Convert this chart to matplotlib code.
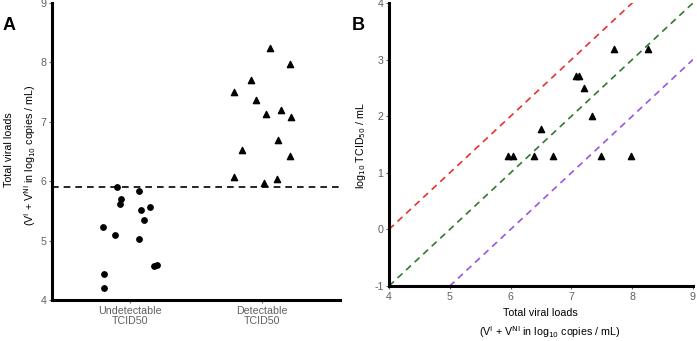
import numpy as np
import matplotlib.pyplot as plt

plt.rcParams['font.family'] = ['Liberation Sans', 'DejaVu Sans']
plt.rcParams['axes.unicode_minus'] = False

# Panel A data: category index, horizontal jitter, viral load
undet_jitter = [-0.096, -0.070, -0.078, 0.070, 0.149, 0.086, 0.104,
                -0.207, -0.111, 0.070, 0.184, 0.202, -0.194, -0.194]
undet_load = [5.90, 5.70, 5.62, 5.84, 5.57, 5.52, 5.35,
              5.23, 5.10, 5.03, 4.57, 4.59, 4.44, 4.21]
det_jitter = [0.058, 0.212, -0.083, -0.212, -0.048, 0.146, 0.028,
              0.217, 0.124, -0.149, 0.210, -0.212, 0.114, 0.013]
det_load = [8.25, 7.97, 7.70, 7.50, 7.36, 7.20, 7.13,
            7.08, 6.70, 6.52, 6.42, 6.07, 6.04, 5.97]
categories = ['Undetectable\nTCID50', 'Detectable\nTCID50']
threshold = 5.9

# Panel B data
b_load = [5.96, 6.04, 6.39, 6.69, 6.50, 7.07, 7.12, 7.20, 7.34, 7.49, 7.70, 7.98, 8.26]
b_tcid = [1.3, 1.3, 1.3, 1.3, 1.78, 2.71, 2.71, 2.49, 2.0, 1.3, 3.19, 1.3, 3.19]
# reference lines y = x - offset
line_offsets = [4, 5, 6]
line_colors = ['#e8322c', '#2f7a2f', '#9a55e0']

W, H = 697, 341
fig = plt.figure(figsize=(W / 100, H / 100), dpi=100)

tick_color = '#606060'
fs = 7.7
paren_label = r'(V$^{\mathrm{I}}$ + V$^{\mathrm{NI}}$ in log$_{10}$ copies / mL)'


def style(ax):
    for s in ['top', 'right']:
        ax.spines[s].set_visible(False)
    for s in ['left', 'bottom']:
        ax.spines[s].set_linewidth(2.2)
        ax.spines[s].set_color('black')
    ax.tick_params(length=2.5, width=0.8, color=tick_color, labelcolor=tick_color,
                   labelsize=fs, pad=1.5)


# Panel A
axA = fig.add_axes([52 / W, 1 - 300 / H, (340 - 52) / W, (300 - 3) / H])
style(axA)
axA.scatter(1 + np.array(undet_jitter), undet_load, marker='o', s=15, color='black', zorder=3)
axA.scatter(2 + np.array(det_jitter), det_load, marker='^', s=20, color='black', zorder=3)
axA.axhline(threshold, color='black', linestyle=(0, (4, 3)), linewidth=1.2)
axA.set_xlim(0.41, 2.59)
axA.set_ylim(4, 9)
axA.set_yticks([4, 5, 6, 7, 8, 9])
axA.set_xticks([1, 2])
axA.set_xticklabels(categories, linespacing=1.1)
fig.text(9 / W, 1 - 150 / H, 'Total viral loads', fontsize=fs, rotation=90,
         ha='center', va='center')
fig.text(30 / W, 1 - 155 / H, paren_label, fontsize=fs, rotation=90,
         ha='center', va='center')
fig.text(3 / W, 1 - 30 / H, 'A', fontsize=13, fontweight='bold')

# Panel B
axB = fig.add_axes([389 / W, 1 - 286 / H, (693 - 389) / W, (286 - 3) / H])
style(axB)
xx = np.array([4, 9])
for off, c in zip(line_offsets, line_colors):
    axB.plot(xx, xx - off, color=c, linestyle=(0, (4, 3)), linewidth=1.2, zorder=2)
axB.scatter(b_load, b_tcid, marker='^', s=20, color='black', zorder=3)
axB.set_xlim(4, 9)
axB.set_ylim(-1, 4)
axB.set_xticks([4, 5, 6, 7, 8, 9])
axB.set_yticks([-1, 0, 1, 2, 3, 4])
fig.text(361 / W, 1 - 146 / H, r'log$_{10}$ TCID$_{50}$ / mL', fontsize=fs, rotation=90,
         ha='center', va='center')
fig.text(540 / W, 1 - 313 / H, 'Total viral loads', fontsize=fs, ha='center', va='center')
fig.text(550 / W, 1 - 332 / H, paren_label, fontsize=fs, ha='center', va='center')
fig.text(352 / W, 1 - 30 / H, 'B', fontsize=13, fontweight='bold')

fig.savefig('out.png', dpi=100)
